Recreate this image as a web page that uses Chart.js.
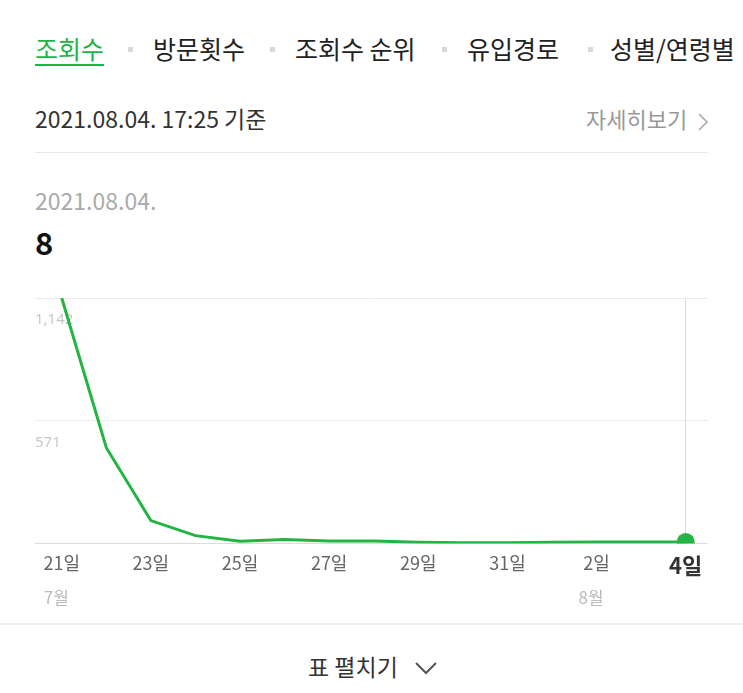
<!DOCTYPE html>
<html>
<head>
<meta charset="utf-8">
<script src="https://cdn.jsdelivr.net/npm/chart.js@4/dist/chart.umd.min.js"></script>
<style>
  body { margin: 0; background: #fff; font-family: "Noto Sans CJK KR", "Noto Sans", sans-serif; width: 743px; height: 693px; overflow: hidden; position: relative; }
  .abs { position: absolute; white-space: nowrap; line-height: 1; }
  .tab { font-size: 25px; color: #222; top: 36px; }
  .tab.on { color: #1db548; text-decoration: underline; text-underline-offset: 5px; text-decoration-thickness: 2px; }
  .sep { position: absolute; top: 47px; width: 5px; height: 5px; background: #d8d8d8; }
  #chartBox { position: absolute; left: 0; top: 280px; }
</style>
</head>
<body>
<div class="abs tab on" style="left:35px">조회수</div>
<div class="sep" style="left:128px"></div>
<div class="abs tab" style="left:153px">방문횟수</div>
<div class="sep" style="left:270px"></div>
<div class="abs tab" style="left:295px">조회수 순위</div>
<div class="sep" style="left:442px"></div>
<div class="abs tab" style="left:467px">유입경로</div>
<div class="sep" style="left:588px"></div>
<div class="abs tab" style="left:610px">성별/연령별</div>

<div class="abs" style="left:35px;top:107px;font-size:23px;color:#333">2021.08.04. 17:25 기준</div>
<div class="abs" style="left:586px;top:107px;font-size:22px;color:#999">자세히보기</div>
<svg style="position:absolute;left:697px;top:112px" width="12" height="20"><polyline points="2,2 10,10 2,18" fill="none" stroke="#aaa" stroke-width="1.6"/></svg>
<div style="position:absolute;left:35px;top:152px;width:673px;height:1px;background:#e8e8e8"></div>

<div class="abs" style="left:35px;top:189px;font-size:23px;color:#aaa">2021.08.04.</div>
<div class="abs" style="left:35px;top:226px;font-size:31px;color:#111;font-weight:bold">8</div>

<div id="chartBox"><canvas id="views" width="743" height="340"></canvas></div>

<div style="position:absolute;left:0;top:623px;width:743px;height:2px;background:#eee"></div>
<div class="abs" style="left:308px;top:655px;font-size:23px;color:#333">표 펼치기</div>
<svg style="position:absolute;left:414px;top:660px" width="24" height="16"><polyline points="2,3 12,13 22,3" fill="none" stroke="#555" stroke-width="2"/></svg>

<script>
// 7/21 ~ 8/4 daily views
var dayLabels = ['21일','22일','23일','24일','25일','26일','27일','28일','29일','30일','31일','1일','2일','3일','4일'];
var monthLabels = ['7월','','','','','','','','','','','','8월','',''];
var views = [1142, 446, 107, 37, 11, 19, 12, 12, 6, 4, 4, 6, 8, 8, 8];
var yTicks = [0, 571, 1142];
var xTicks = [0, 2, 4, 6, 8, 10, 12, 14];

var last = views.length - 1;
var green = '#22b543';

var points = [];
for (var i = 0; i < views.length; i++) {
  points.push({ x: i, y: views[i] });
}

function setTicks(list) {
  return function(scale) {
    scale.ticks = list.map(function(v){ return { value: v }; });
  };
}

var ctx = document.getElementById('views');
var chart = new Chart(ctx, {
  type: 'line',
  data: {
    datasets: [{
      data: points,
      borderColor: green,
      backgroundColor: green,
      borderWidth: 3,
      tension: 0,
      pointRadius: function(c){ return c.dataIndex === last ? 9 : 0; },
      pointHoverRadius: 0,
      pointBorderWidth: 0
    }]
  },
  options: {
    responsive: false,
    animation: false,
    layout: { padding: { top: 18, left: 35, right: 35, bottom: 12 } },
    plugins: { legend: { display: false }, tooltip: { enabled: false } },
    scales: {
      x: {
        type: 'linear',
        min: -0.6,
        max: 14.5,
        weight: 0,
        afterBuildTicks: setTicks(xTicks),
        border: { display: false },
        grid: {
          drawTicks: false,
          lineWidth: 1,
          color: function(c){ return c.tick && c.tick.value === last ? '#dcdcdc' : 'rgba(0,0,0,0)'; }
        },
        ticks: {
          padding: 11,
          autoSkip: false,
          maxRotation: 0,
          callback: function(v){ return dayLabels[v]; },
          color: function(c){ return c.tick && c.tick.value === last ? '#333' : '#666'; },
          font: function(c){
            return c.tick && c.tick.value === last
              ? { family: 'Noto Sans CJK KR', size: 22, weight: 'bold', lineHeight: 1 }
              : { family: 'Noto Sans CJK KR', size: 18, lineHeight: 1 };
          }
        }
      },
      x2: {
        type: 'linear',
        position: 'bottom',
        min: -0.6,
        max: 14.5,
        weight: 1,
        afterBuildTicks: setTicks(xTicks),
        border: { display: false },
        grid: { display: false, drawTicks: false },
        ticks: {
          padding: 0,
          align: 'start',
          labelOffset: -18,
          autoSkip: false,
          maxRotation: 0,
          callback: function(v){ return monthLabels[v]; },
          color: '#bbb',
          font: { family: 'Noto Sans CJK KR', size: 17 }
        }
      },
      y: {
        min: 0,
        max: 1142,
        afterBuildTicks: setTicks(yTicks),
        border: { display: false },
        grid: {
          drawTicks: false,
          color: function(c){ return c.tick && c.tick.value === 0 ? '#dcdcdc' : '#ebebeb'; }
        },
        ticks: {
          mirror: true,
          padding: 0,
          labelOffset: 22,
          color: '#c8c8c8',
          font: { family: 'Noto Sans', size: 15 },
          callback: function(v){ return v === 0 ? '' : v.toLocaleString('en-US'); }
        }
      }
    }
  }
});
</script>
</body>
</html>
